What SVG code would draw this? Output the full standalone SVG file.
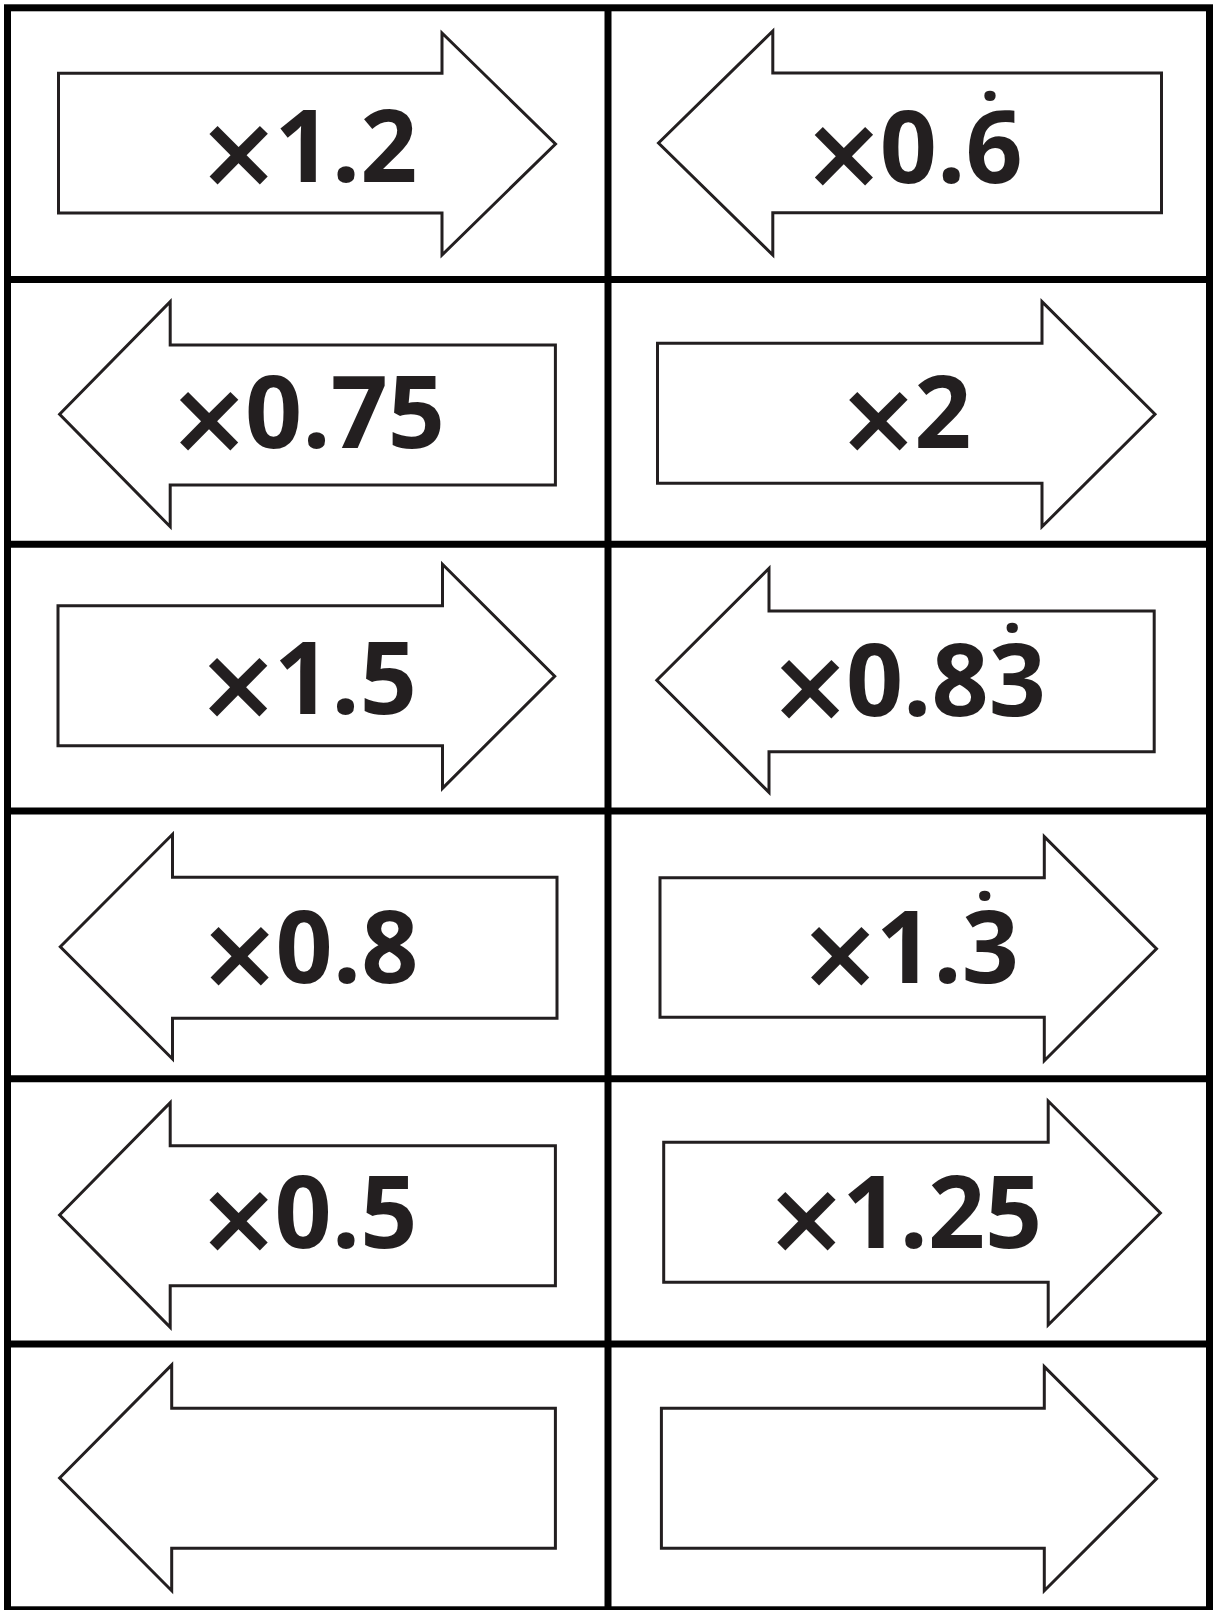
<svg xmlns="http://www.w3.org/2000/svg" width="1213" height="1610" viewBox="0 0 1213 1610">
<style>
.grid{fill:none;stroke:#000;stroke-width:7}
.arrow{fill:#fff;stroke:#231f20;stroke-width:3;stroke-linejoin:miter}
.lbl{font-family:"Open Sans","Noto Sans","Liberation Sans",sans-serif;font-weight:700;font-size:100px;fill:#231f20;text-anchor:middle}
.mul{font-size:132px;font-weight:600}
.dot{font-size:70px}
</style>
<rect x="0" y="0" width="1213" height="1610" fill="#fff"/>
<g id="grid">
<rect class="grid" x="7.5" y="7.8" width="1202" height="1602"/>
<line class="grid" x1="608" y1="7.8" x2="608" y2="1610"/>
<line class="grid" x1="7.5" y1="279.5" x2="1209.5" y2="279.5"/>
<line class="grid" x1="7.5" y1="544.3" x2="1209.5" y2="544.3"/>
<line class="grid" x1="7.5" y1="811" x2="1209.5" y2="811"/>
<line class="grid" x1="7.5" y1="1078.7" x2="1209.5" y2="1078.7"/>
<line class="grid" x1="7.5" y1="1344" x2="1209.5" y2="1344"/>
</g>
<g id="card-r1-left">
<polygon class="arrow" points="58.5,73.3 442,73.3 442,33 555.5,144 442,255 442,213 58.5,213"/>
<text class="lbl" x="309.3" y="181.7"><tspan class="mul" dy="20">×</tspan><tspan dx="-2" dy="-20">1.2</tspan></text>
</g>
<g id="card-r1-right">
<polygon class="arrow" points="658.5,143 772.8,31 772.8,73 1161.5,73 1161.5,212.7 772.8,212.7 772.8,255"/>
<text class="lbl" x="914.5" y="183"><tspan class="mul" dy="20">×</tspan><tspan dx="-2" dy="-20">0.6</tspan><tspan class="dot" x="990" y="144">˙</tspan></text>
</g>
<g id="card-r2-left">
<polygon class="arrow" points="59.6,414.3 170.2,301.7 170.2,345 555.4,345 555.4,485 170.2,485 170.2,526.7"/>
<text class="lbl" x="308.3" y="448.3"><tspan class="mul" dy="20">×</tspan><tspan dx="-2" dy="-20">0.75</tspan></text>
</g>
<g id="card-r2-right">
<polygon class="arrow" points="657.5,343.3 1042,343.3 1042,301.7 1155,414.3 1042,526.7 1042,483.3 657.5,483.3"/>
<text class="lbl" x="906" y="448"><tspan class="mul" dy="20">×</tspan><tspan dx="-2" dy="-20">2</tspan></text>
</g>
<g id="card-r3-left">
<polygon class="arrow" points="58,605.7 442.5,605.7 442.5,564.3 554.7,676.3 442.5,788.3 442.5,745.7 58,745.7"/>
<text class="lbl" x="308.8" y="714"><tspan class="mul" dy="20">×</tspan><tspan dx="-2" dy="-20">1.5</tspan></text>
</g>
<g id="card-r3-right">
<polygon class="arrow" points="656.8,680.3 769,568.3 769,611 1154.2,611 1154.2,751.7 769,751.7 769,792.3"/>
<text class="lbl" x="909.2" y="715.5"><tspan class="mul" dy="20">×</tspan><tspan dx="-2" dy="-20">0.83</tspan><tspan class="dot" x="1012.3" y="676.3">˙</tspan></text>
</g>
<g id="card-r4-left">
<polygon class="arrow" points="60.3,946.7 172.5,834.3 172.5,877.3 557,877.3 557,1018.3 172.5,1018.3 172.5,1059"/>
<text class="lbl" x="310.2" y="982.7"><tspan class="mul" dy="20">×</tspan><tspan dx="-2" dy="-20">0.8</tspan></text>
</g>
<g id="card-r4-right">
<polygon class="arrow" points="660,877.7 1044.3,877.7 1044.3,836.7 1156.5,948.7 1044.3,1060.7 1044.3,1017.3 660,1017.3"/>
<text class="lbl" x="910.8" y="983.3"><tspan class="mul" dy="20">×</tspan><tspan dx="-2" dy="-20">1.3</tspan><tspan class="dot" x="984.8" y="944">˙</tspan></text>
</g>
<g id="card-r5-left">
<polygon class="arrow" points="59.6,1215 170.2,1102.7 170.2,1145.7 555.4,1145.7 555.4,1285.7 170.2,1285.7 170.2,1327.3"/>
<text class="lbl" x="309.3" y="1247.7"><tspan class="mul" dy="20">×</tspan><tspan dx="-2" dy="-20">0.5</tspan></text>
</g>
<g id="card-r5-right">
<polygon class="arrow" points="663.7,1142.3 1048.2,1142.3 1048.2,1101 1160.4,1213 1048.2,1325 1048.2,1282.3 663.7,1282.3"/>
<text class="lbl" x="905.5" y="1247.7"><tspan class="mul" dy="20">×</tspan><tspan dx="-2" dy="-20">1.25</tspan></text>
</g>
<g id="card-r6-left">
<polygon class="arrow" points="59.6,1478 171.7,1365 171.7,1408.3 555.4,1408.3 555.4,1548.3 171.7,1548.3 171.7,1590.7"/>
</g>
<g id="card-r6-right">
<polygon class="arrow" points="661.4,1408.3 1044.3,1408.3 1044.3,1366.7 1156.5,1478.7 1044.3,1590.7 1044.3,1548.3 661.4,1548.3"/>
</g>
</svg>
